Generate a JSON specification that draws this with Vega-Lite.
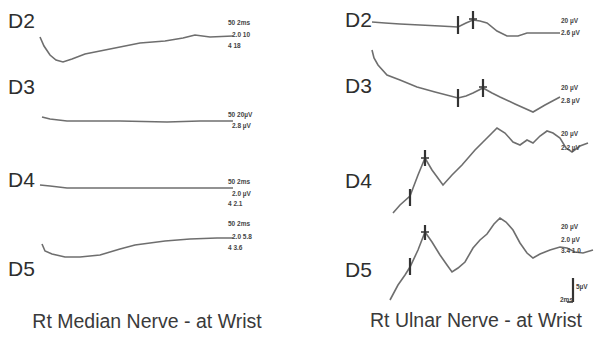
{
  "$schema": "https://vega.github.io/schema/vega-lite/v6.json",
  "width": 598,
  "height": 341,
  "autosize": {"type": "fit", "contains": "padding"},
  "padding": 0,
  "background": "white",
  "config": {"view": {"stroke": null}},
  "datasets": {
    "traces": [
      {"id": "L-D2", "i": 1, "t": 40, "a": 37}, {"id": "L-D2", "i": 2, "t": 44, "a": 46}, {"id": "L-D2", "i": 3, "t": 50, "a": 55}, {"id": "L-D2", "i": 4, "t": 56, "a": 60}, {"id": "L-D2", "i": 5, "t": 63, "a": 62}, {"id": "L-D2", "i": 6, "t": 72, "a": 59}, {"id": "L-D2", "i": 7, "t": 85, "a": 54}, {"id": "L-D2", "i": 8, "t": 110, "a": 49}, {"id": "L-D2", "i": 9, "t": 140, "a": 43}, {"id": "L-D2", "i": 10, "t": 165, "a": 41}, {"id": "L-D2", "i": 11, "t": 183, "a": 38}, {"id": "L-D2", "i": 12, "t": 195, "a": 35}, {"id": "L-D2", "i": 13, "t": 210, "a": 37}, {"id": "L-D2", "i": 14, "t": 233, "a": 36},
      {"id": "L-D3", "i": 1, "t": 42, "a": 117}, {"id": "L-D3", "i": 2, "t": 50, "a": 119}, {"id": "L-D3", "i": 3, "t": 67, "a": 121}, {"id": "L-D3", "i": 4, "t": 120, "a": 121}, {"id": "L-D3", "i": 5, "t": 167, "a": 122}, {"id": "L-D3", "i": 6, "t": 200, "a": 121}, {"id": "L-D3", "i": 7, "t": 233, "a": 121},
      {"id": "L-D4", "i": 1, "t": 40, "a": 185}, {"id": "L-D4", "i": 2, "t": 50, "a": 186}, {"id": "L-D4", "i": 3, "t": 67, "a": 188}, {"id": "L-D4", "i": 4, "t": 150, "a": 188}, {"id": "L-D4", "i": 5, "t": 200, "a": 188}, {"id": "L-D4", "i": 6, "t": 233, "a": 188},
      {"id": "L-D5", "i": 1, "t": 42, "a": 244}, {"id": "L-D5", "i": 2, "t": 45, "a": 251}, {"id": "L-D5", "i": 3, "t": 52, "a": 254}, {"id": "L-D5", "i": 4, "t": 65, "a": 257}, {"id": "L-D5", "i": 5, "t": 80, "a": 257}, {"id": "L-D5", "i": 6, "t": 100, "a": 255}, {"id": "L-D5", "i": 7, "t": 120, "a": 249}, {"id": "L-D5", "i": 8, "t": 135, "a": 245}, {"id": "L-D5", "i": 9, "t": 165, "a": 241}, {"id": "L-D5", "i": 10, "t": 190, "a": 239}, {"id": "L-D5", "i": 11, "t": 217, "a": 238}, {"id": "L-D5", "i": 12, "t": 233, "a": 238},
      {"id": "R-D2", "i": 1, "t": 372, "a": 22}, {"id": "R-D2", "i": 2, "t": 385, "a": 23}, {"id": "R-D2", "i": 3, "t": 400, "a": 24}, {"id": "R-D2", "i": 4, "t": 420, "a": 25}, {"id": "R-D2", "i": 5, "t": 440, "a": 26}, {"id": "R-D2", "i": 6, "t": 458, "a": 27}, {"id": "R-D2", "i": 7, "t": 466, "a": 23}, {"id": "R-D2", "i": 8, "t": 473, "a": 20}, {"id": "R-D2", "i": 9, "t": 480, "a": 21}, {"id": "R-D2", "i": 10, "t": 487, "a": 23}, {"id": "R-D2", "i": 11, "t": 497, "a": 31}, {"id": "R-D2", "i": 12, "t": 507, "a": 36}, {"id": "R-D2", "i": 13, "t": 518, "a": 36}, {"id": "R-D2", "i": 14, "t": 527, "a": 33}, {"id": "R-D2", "i": 15, "t": 540, "a": 33}, {"id": "R-D2", "i": 16, "t": 560, "a": 33},
      {"id": "R-D3", "i": 1, "t": 372, "a": 50}, {"id": "R-D3", "i": 2, "t": 374, "a": 58}, {"id": "R-D3", "i": 3, "t": 378, "a": 65}, {"id": "R-D3", "i": 4, "t": 387, "a": 75}, {"id": "R-D3", "i": 5, "t": 400, "a": 80}, {"id": "R-D3", "i": 6, "t": 417, "a": 87}, {"id": "R-D3", "i": 7, "t": 435, "a": 92}, {"id": "R-D3", "i": 8, "t": 458, "a": 98}, {"id": "R-D3", "i": 9, "t": 466, "a": 96}, {"id": "R-D3", "i": 10, "t": 473, "a": 93}, {"id": "R-D3", "i": 11, "t": 483, "a": 88}, {"id": "R-D3", "i": 12, "t": 492, "a": 93}, {"id": "R-D3", "i": 13, "t": 500, "a": 97}, {"id": "R-D3", "i": 14, "t": 515, "a": 104}, {"id": "R-D3", "i": 15, "t": 533, "a": 112}, {"id": "R-D3", "i": 16, "t": 545, "a": 105}, {"id": "R-D3", "i": 17, "t": 560, "a": 97},
      {"id": "R-D4", "i": 1, "t": 393, "a": 213}, {"id": "R-D4", "i": 2, "t": 400, "a": 205}, {"id": "R-D4", "i": 3, "t": 410, "a": 196}, {"id": "R-D4", "i": 4, "t": 418, "a": 175}, {"id": "R-D4", "i": 5, "t": 425, "a": 158}, {"id": "R-D4", "i": 6, "t": 432, "a": 170}, {"id": "R-D4", "i": 7, "t": 443, "a": 185}, {"id": "R-D4", "i": 8, "t": 452, "a": 175}, {"id": "R-D4", "i": 9, "t": 462, "a": 165}, {"id": "R-D4", "i": 10, "t": 475, "a": 150}, {"id": "R-D4", "i": 11, "t": 487, "a": 138}, {"id": "R-D4", "i": 12, "t": 497, "a": 128}, {"id": "R-D4", "i": 13, "t": 505, "a": 133}, {"id": "R-D4", "i": 14, "t": 513, "a": 142}, {"id": "R-D4", "i": 15, "t": 520, "a": 145}, {"id": "R-D4", "i": 16, "t": 527, "a": 140}, {"id": "R-D4", "i": 17, "t": 533, "a": 143}, {"id": "R-D4", "i": 18, "t": 540, "a": 136}, {"id": "R-D4", "i": 19, "t": 547, "a": 131}, {"id": "R-D4", "i": 20, "t": 553, "a": 133}, {"id": "R-D4", "i": 21, "t": 560, "a": 138}, {"id": "R-D4", "i": 22, "t": 566, "a": 148}, {"id": "R-D4", "i": 23, "t": 572, "a": 152}, {"id": "R-D4", "i": 24, "t": 580, "a": 146}, {"id": "R-D4", "i": 25, "t": 588, "a": 143},
      {"id": "R-D5", "i": 1, "t": 390, "a": 300}, {"id": "R-D5", "i": 2, "t": 398, "a": 285}, {"id": "R-D5", "i": 3, "t": 405, "a": 275}, {"id": "R-D5", "i": 4, "t": 410, "a": 267}, {"id": "R-D5", "i": 5, "t": 418, "a": 250}, {"id": "R-D5", "i": 6, "t": 425, "a": 232}, {"id": "R-D5", "i": 7, "t": 432, "a": 242}, {"id": "R-D5", "i": 8, "t": 440, "a": 255}, {"id": "R-D5", "i": 9, "t": 447, "a": 265}, {"id": "R-D5", "i": 10, "t": 452, "a": 272}, {"id": "R-D5", "i": 11, "t": 458, "a": 268}, {"id": "R-D5", "i": 12, "t": 465, "a": 262}, {"id": "R-D5", "i": 13, "t": 473, "a": 248}, {"id": "R-D5", "i": 14, "t": 480, "a": 240}, {"id": "R-D5", "i": 15, "t": 487, "a": 234}, {"id": "R-D5", "i": 16, "t": 494, "a": 224}, {"id": "R-D5", "i": 17, "t": 500, "a": 218}, {"id": "R-D5", "i": 18, "t": 506, "a": 222}, {"id": "R-D5", "i": 19, "t": 513, "a": 230}, {"id": "R-D5", "i": 20, "t": 520, "a": 243}, {"id": "R-D5", "i": 21, "t": 527, "a": 253}, {"id": "R-D5", "i": 22, "t": 533, "a": 258}, {"id": "R-D5", "i": 23, "t": 540, "a": 254}, {"id": "R-D5", "i": 24, "t": 550, "a": 250}, {"id": "R-D5", "i": 25, "t": 560, "a": 247}, {"id": "R-D5", "i": 26, "t": 567, "a": 248}, {"id": "R-D5", "i": 27, "t": 575, "a": 252}, {"id": "R-D5", "i": 28, "t": 583, "a": 253}, {"id": "R-D5", "i": 29, "t": 593, "a": 250}
    ],
    "labels": [
      {"t": 8, "a": 22, "label": "D2"}, {"t": 8, "a": 88, "label": "D3"}, {"t": 8, "a": 181, "label": "D4"}, {"t": 8, "a": 270, "label": "D5"},
      {"t": 345, "a": 21, "label": "D2"}, {"t": 345, "a": 87, "label": "D3"}, {"t": 345, "a": 182, "label": "D4"}, {"t": 345, "a": 271, "label": "D5"}
    ],
    "titles": [
      {"t": 147, "a": 322, "label": "Rt Median Nerve - at Wrist"},
      {"t": 476, "a": 321, "label": "Rt Ulnar Nerve - at Wrist"}
    ],
    "notes": [
      {"t": 228, "a": 23, "label": "50  2ms"}, {"t": 232, "a": 35, "label": "2.0 10"}, {"t": 228, "a": 46, "label": "4    18"},
      {"t": 228, "a": 115, "label": "50  20µV"}, {"t": 232, "a": 126, "label": "2.8 µV"},
      {"t": 228, "a": 182, "label": "50  2ms"}, {"t": 232, "a": 194, "label": "2.0 µV"}, {"t": 228, "a": 204, "label": "4    2.1"},
      {"t": 228, "a": 224, "label": "50  2ms"}, {"t": 232, "a": 237, "label": "2.0 5.8"}, {"t": 228, "a": 248, "label": "4    3.6"},
      {"t": 561, "a": 21, "label": "20  µV"}, {"t": 561, "a": 33, "label": "2.6 µV"},
      {"t": 561, "a": 88, "label": "20  µV"}, {"t": 561, "a": 101, "label": "2.8 µV"},
      {"t": 561, "a": 134, "label": "20  µV"}, {"t": 561, "a": 148, "label": "2.2 µV"},
      {"t": 561, "a": 227, "label": "20  µV"}, {"t": 561, "a": 240, "label": "2.0 µV"}, {"t": 561, "a": 251, "label": "3.4 1.0"},
      {"t": 576, "a": 287, "label": "5µV"}, {"t": 560, "a": 300, "label": "2ms"}
    ],
    "ticks": [
      {"t": 458, "a1": 16, "a2": 34}, {"t": 473, "a1": 11, "a2": 29},
      {"t": 458, "a1": 89, "a2": 107}, {"t": 483, "a1": 79, "a2": 97},
      {"t": 410, "a1": 189, "a2": 206}, {"t": 425, "a1": 150, "a2": 166},
      {"t": 410, "a1": 258, "a2": 275}, {"t": 425, "a1": 225, "a2": 240},
      {"t": 573, "a1": 278, "a2": 302}
    ],
    "bars": [
      {"t1": 469, "t2": 477, "a": 19}, {"t1": 479, "t2": 487, "a": 87},
      {"t1": 421, "t2": 429, "a": 158}, {"t1": 421, "t2": 429, "a": 232},
      {"t1": 567, "t2": 573, "a": 302}
    ]
  },
  "layer": [
    {
      "data": {"name": "traces"},
      "mark": {"type": "line", "color": "#555555", "strokeWidth": 1.6, "opacity": 0.85},
      "encoding": {
        "x": {"field": "t", "type": "quantitative", "scale": {"domain": [0, 598], "nice": false, "zero": false}, "axis": null},
        "y": {"field": "a", "type": "quantitative", "scale": {"domain": [0, 341], "nice": false, "zero": false, "reverse": true}, "axis": null},
        "detail": {"field": "id"},
        "order": {"field": "i"}
      }
    },
    {
      "data": {"name": "ticks"},
      "mark": {"type": "rule", "color": "#333333", "strokeWidth": 2.2},
      "encoding": {
        "x": {"field": "t", "type": "quantitative"},
        "y": {"field": "a1", "type": "quantitative"},
        "y2": {"field": "a2"}
      }
    },
    {
      "data": {"name": "bars"},
      "mark": {"type": "rule", "color": "#333333", "strokeWidth": 1.5},
      "encoding": {
        "x": {"field": "t1", "type": "quantitative"},
        "x2": {"field": "t2"},
        "y": {"field": "a", "type": "quantitative"}
      }
    },
    {
      "data": {"name": "labels"},
      "mark": {"type": "text", "align": "left", "baseline": "middle", "font": "Liberation Sans", "fontSize": 21, "color": "#2e2e2e"},
      "encoding": {
        "x": {"field": "t", "type": "quantitative"},
        "y": {"field": "a", "type": "quantitative"},
        "text": {"field": "label"}
      }
    },
    {
      "data": {"name": "titles"},
      "mark": {"type": "text", "align": "center", "baseline": "middle", "font": "Liberation Sans", "fontSize": 19.5, "color": "#3a3a3a"},
      "encoding": {
        "x": {"field": "t", "type": "quantitative"},
        "y": {"field": "a", "type": "quantitative"},
        "text": {"field": "label"}
      }
    },
    {
      "data": {"name": "notes"},
      "mark": {"type": "text", "align": "left", "baseline": "middle", "font": "Liberation Sans", "fontSize": 6.5, "fontWeight": "bold", "color": "#444444"},
      "encoding": {
        "x": {"field": "t", "type": "quantitative"},
        "y": {"field": "a", "type": "quantitative"},
        "text": {"field": "label"}
      }
    }
  ]
}
